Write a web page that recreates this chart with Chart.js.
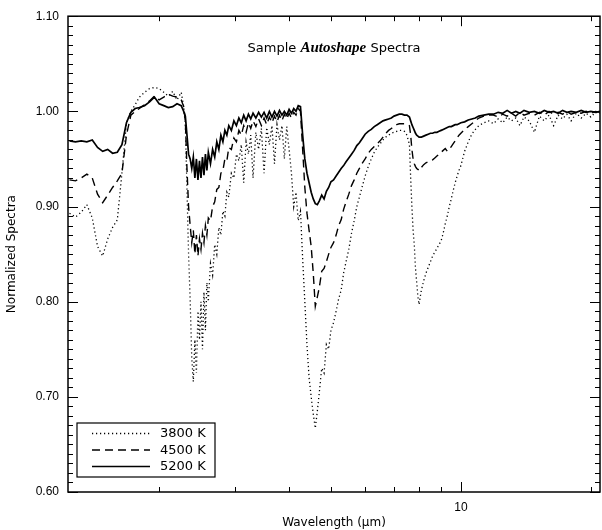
<!DOCTYPE html>
<html>
<head>
<meta charset="utf-8">
<title>Sample Autoshape Spectra</title>
<script src="https://cdn.jsdelivr.net/npm/chart.js@4.4.0/dist/chart.umd.min.js"></script>
<style>
  html, body { margin: 0; padding: 0; background: #fff; }
  canvas { display: block; }
</style>
</head>
<body>
<canvas id="spectraChart" width="602" height="530"></canvas>
<script>
// wavelength grid in micron
const wavelength = [
  1.24, 1.28, 1.32, 1.36, 1.40, 1.44, 1.48, 1.52, 1.56, 1.60,
  1.64, 1.68, 1.72, 1.76, 1.80, 1.85, 1.90, 1.95, 2.00, 2.05,
  2.10, 2.15, 2.20, 2.25, 2.28, 2.30, 2.32, 2.34, 2.36, 2.38,
  2.40, 2.42, 2.44, 2.46, 2.48, 2.50, 2.52, 2.54, 2.56, 2.58,
  2.60, 2.63, 2.66, 2.69, 2.72, 2.75, 2.78, 2.81, 2.84, 2.87,
  2.90, 2.94, 2.98, 3.02, 3.06, 3.10, 3.14, 3.18, 3.22, 3.26,
  3.30, 3.35, 3.40, 3.45, 3.50, 3.55, 3.60, 3.65, 3.70, 3.75,
  3.80, 3.85, 3.90, 3.95, 4.00, 4.05, 4.10, 4.15, 4.20, 4.25,
  4.30, 4.35, 4.40, 4.45, 4.50, 4.55, 4.60, 4.65, 4.70, 4.76,
  4.82, 4.88, 4.94, 5.00, 5.07, 5.14, 5.21, 5.28, 5.35, 5.42,
  5.50, 5.58, 5.66, 5.74, 5.82, 5.90, 6.00, 6.10, 6.20, 6.30,
  6.40, 6.50, 6.60, 6.70, 6.80, 6.90, 7.00, 7.10, 7.20, 7.30,
  7.40, 7.50, 7.60, 7.65, 7.70, 7.75, 7.80, 7.85, 7.90, 7.95,
  8.00, 8.05, 8.10, 8.20, 8.30, 8.40, 8.50, 8.60, 8.70, 8.80,
  8.90, 9.00, 9.10, 9.20, 9.30, 9.40, 9.50, 9.60, 9.70, 9.80,
  9.90, 10.0, 10.2, 10.4, 10.6, 10.8, 11.0, 11.3, 11.6, 11.9,
  12.2, 12.5, 12.8, 13.1, 13.4, 13.7, 14.0, 14.4, 14.8, 15.2,
  15.6, 16.0, 16.4, 16.8, 17.2, 17.6, 18.0, 18.5, 19.0, 19.5,
  20.0, 20.5, 21.0
];

const spec3800 = [
  0.893, 0.889, 0.894, 0.902, 0.888, 0.858, 0.848, 0.866, 0.878, 0.886,
  0.935, 0.988, 1.000, 1.007, 1.015, 1.020, 1.024, 1.025, 1.024, 1.020,
  1.016, 1.021, 1.012, 1.020, 1.005, 0.985, 0.920, 0.850, 0.800, 0.740,
  0.716, 0.760, 0.725, 0.790, 0.760, 0.800, 0.750, 0.810, 0.770, 0.820,
  0.800, 0.840, 0.828, 0.860, 0.850, 0.878, 0.870, 0.895, 0.890, 0.915,
  0.910, 0.935, 0.930, 0.955, 0.948, 0.965, 0.925, 0.968, 0.955, 0.975,
  0.930, 0.978, 0.960, 0.982, 0.935, 0.983, 0.965, 0.985, 0.945, 0.986,
  0.970, 0.985, 0.950, 0.984, 0.960, 0.935, 0.900, 0.915, 0.885, 0.895,
  0.845, 0.800, 0.755, 0.720, 0.700, 0.682, 0.667, 0.685, 0.705, 0.730,
  0.725, 0.755, 0.750, 0.770, 0.778, 0.790, 0.803, 0.812, 0.830, 0.842,
  0.855, 0.872, 0.885, 0.900, 0.910, 0.920, 0.932, 0.942, 0.950, 0.957,
  0.962, 0.966, 0.970, 0.973, 0.975, 0.977, 0.978, 0.979, 0.980, 0.980,
  0.979, 0.975, 0.965, 0.930, 0.900, 0.875, 0.860, 0.835, 0.820, 0.805,
  0.797, 0.805, 0.812, 0.822, 0.830, 0.836, 0.842, 0.848, 0.852, 0.856,
  0.860, 0.864, 0.872, 0.882, 0.890, 0.900, 0.908, 0.917, 0.925, 0.932,
  0.938, 0.943, 0.958, 0.968, 0.976, 0.981, 0.985, 0.988, 0.990, 0.987,
  0.992, 0.988, 0.994, 0.990, 0.993, 0.985, 0.994, 0.990, 0.978, 0.995,
  0.990, 0.996, 0.985, 0.996, 0.992, 0.997, 0.990, 0.998, 0.993, 0.998,
  0.994, 0.999, 0.998
];

const spec4500 = [
  0.928, 0.927, 0.930, 0.934, 0.930, 0.913, 0.904, 0.912, 0.920, 0.927,
  0.935, 0.975, 0.996, 1.000, 1.003, 1.007, 1.011, 1.016, 1.012, 1.015,
  1.018, 1.016, 1.015, 1.012, 1.005, 0.990, 0.940, 0.900, 0.880, 0.862,
  0.875, 0.850, 0.870, 0.848, 0.866, 0.855, 0.872, 0.862, 0.880, 0.870,
  0.888, 0.885, 0.900, 0.905, 0.918, 0.920, 0.935, 0.938, 0.950, 0.948,
  0.962, 0.960, 0.972, 0.968, 0.980, 0.975, 0.985, 0.978, 0.988, 0.982,
  0.990, 0.984, 0.992, 0.985, 0.993, 0.986, 0.994, 0.988, 0.995, 0.989,
  0.996, 0.990, 0.997, 0.992, 0.998, 0.993, 0.999, 0.996, 1.003, 1.000,
  0.960, 0.920, 0.893, 0.875, 0.858, 0.830, 0.795, 0.805, 0.815, 0.832,
  0.835, 0.842, 0.850, 0.857, 0.862, 0.870, 0.880, 0.886, 0.897, 0.905,
  0.913, 0.922, 0.928, 0.935, 0.940, 0.945, 0.950, 0.956, 0.960, 0.963,
  0.966, 0.969, 0.973, 0.977, 0.980, 0.982, 0.984, 0.986, 0.987, 0.987,
  0.987, 0.986, 0.985, 0.975, 0.960, 0.950, 0.945, 0.942, 0.940, 0.939,
  0.938, 0.938, 0.941, 0.944, 0.946, 0.947, 0.948, 0.949, 0.951, 0.953,
  0.955, 0.957, 0.959, 0.961, 0.958, 0.960, 0.963, 0.966, 0.969, 0.972,
  0.975, 0.977, 0.981, 0.984, 0.987, 0.990, 0.993, 0.995, 0.996, 0.996,
  0.994, 0.997, 0.995, 0.998, 0.995, 0.999, 0.996, 0.998, 0.996, 0.999,
  0.996, 1.000, 0.997, 0.999, 0.997, 1.000, 0.997, 0.999, 0.998, 1.000,
  0.998, 1.000, 0.999
];

const spec5200 = [
  0.969, 0.968, 0.969, 0.968, 0.970, 0.962, 0.958, 0.960, 0.956, 0.957,
  0.965, 0.988, 0.999, 1.003, 1.004, 1.006, 1.010, 1.015, 1.008, 1.006,
  1.004, 1.005, 1.008, 1.006, 1.000, 0.995, 0.975, 0.955, 0.950, 0.940,
  0.952, 0.930, 0.950, 0.928, 0.948, 0.930, 0.952, 0.933, 0.955, 0.938,
  0.957, 0.945, 0.960, 0.952, 0.968, 0.960, 0.975, 0.968, 0.980, 0.975,
  0.985, 0.980, 0.990, 0.985, 0.993, 0.988, 0.996, 0.990, 0.997, 0.992,
  0.998, 0.993, 0.999, 0.994, 0.999, 0.993, 1.000, 0.994, 1.000, 0.995,
  1.001, 0.996, 1.000, 0.996, 1.002, 0.998, 1.003, 1.000, 1.006, 1.005,
  0.975, 0.950, 0.935, 0.925, 0.915, 0.908, 0.903, 0.902, 0.906, 0.912,
  0.908, 0.916, 0.920, 0.926, 0.928, 0.932, 0.936, 0.940, 0.943, 0.947,
  0.951, 0.955, 0.959, 0.964, 0.967, 0.971, 0.976, 0.979, 0.981, 0.984,
  0.986, 0.988, 0.990, 0.991, 0.992, 0.993, 0.995, 0.996, 0.997, 0.997,
  0.996, 0.996, 0.994, 0.990, 0.986, 0.983, 0.980, 0.977, 0.975, 0.974,
  0.973, 0.973, 0.973, 0.974, 0.975, 0.976, 0.977, 0.977, 0.978, 0.978,
  0.979, 0.980, 0.981, 0.982, 0.983, 0.984, 0.984, 0.985, 0.986, 0.986,
  0.987, 0.988, 0.989, 0.991, 0.992, 0.993, 0.995, 0.996, 0.997, 0.997,
  0.999, 0.998, 1.001, 0.998, 1.000, 0.998, 1.001, 0.999, 1.000, 0.998,
  1.001, 0.999, 1.000, 0.998, 1.001, 0.999, 1.000, 0.999, 1.001, 0.999,
  1.000, 0.999, 1.000
];

const seriesLabels = ['3800 K', '4500 K', '5200 K'];
const xTicks = [2, 3, 4, 5, 6, 7, 8, 9, 10, 20];
const xLabelled = [10];
const yMin = 0.60, yMax = 1.10, yStep = 0.10;

const toPoints = (vals) => wavelength.map((w, i) => ({ x: w, y: vals[i] }));

const sans = '"DejaVu Sans", "Liberation Sans", sans-serif';

// frame with inward ticks on all four sides, title and legend box
const framePlugin = {
  id: 'frame',
  afterDatasetsDraw(chart) {
    const { ctx, chartArea: a, scales: { x, y } } = chart;
    ctx.save();
    ctx.strokeStyle = '#000';
    ctx.lineWidth = 1;
    ctx.beginPath();
    for (let i = Math.round(yMin * 100); i <= Math.round(yMax * 100); i++) {
      const py = Math.round(y.getPixelForValue(i / 100)) + 0.5;
      const len = i % 10 === 0 ? 10 : 5;
      ctx.moveTo(a.left, py); ctx.lineTo(a.left + len, py);
      ctx.moveTo(a.right, py); ctx.lineTo(a.right - len, py);
    }
    x.ticks.forEach(t => {
      const px = Math.round(x.getPixelForValue(t.value)) + 0.5;
      const len = xLabelled.includes(t.value) ? 10 : 5;
      ctx.moveTo(px, a.bottom); ctx.lineTo(px, a.bottom - len);
      ctx.moveTo(px, a.top); ctx.lineTo(px, a.top + len);
    });
    ctx.stroke();
    ctx.lineWidth = 1.5;
    ctx.strokeRect(a.left, a.top, a.right - a.left, a.bottom - a.top);

    // title: mixed fonts
    const parts = [
      { t: 'Sample ', f: '13px ' + sans },
      { t: 'Autoshape', f: 'italic bold 15px "Liberation Serif", serif' },
      { t: ' Spectra', f: '13px ' + sans }
    ];
    let total = 0;
    parts.forEach(p => { ctx.font = p.f; p.w = ctx.measureText(p.t).width; total += p.w; });
    let tx = (a.left + a.right) / 2 - total / 2;
    ctx.fillStyle = '#000';
    ctx.textBaseline = 'middle';
    ctx.textAlign = 'left';
    parts.forEach(p => { ctx.font = p.f; ctx.fillText(p.t, tx, a.top + 32); tx += p.w; });

    // legend box
    const bx = a.left + 9, by = a.bottom - 69, bw = 138, bh = 54;
    ctx.fillStyle = '#fff';
    ctx.fillRect(bx, by, bw, bh);
    ctx.lineWidth = 1.2;
    ctx.strokeRect(bx, by, bw, bh);
    ctx.font = '13px ' + sans;
    chart.data.datasets.forEach((ds, i) => {
      const ly = by + 10.5 + i * 16.5;
      ctx.beginPath();
      ctx.setLineDash(ds.borderDash || []);
      ctx.lineWidth = ds.borderWidth;
      ctx.moveTo(bx + 15, ly);
      ctx.lineTo(bx + 73, ly);
      ctx.stroke();
      ctx.setLineDash([]);
      ctx.fillStyle = '#000';
      ctx.fillText(ds.label, bx + 83, ly + 0.5);
    });
    ctx.restore();
  }
};

new Chart(document.getElementById('spectraChart'), {
  type: 'line',
  data: {
    datasets: [
      { label: seriesLabels[0], data: toPoints(spec3800), borderColor: '#000', borderWidth: 1.3, borderDash: [1.2, 2.8] },
      { label: seriesLabels[1], data: toPoints(spec4500), borderColor: '#000', borderWidth: 1.4, borderDash: [8, 5] },
      { label: seriesLabels[2], data: toPoints(spec5200), borderColor: '#000', borderWidth: 1.7 }
    ]
  },
  options: {
    responsive: false,
    animation: false,
    layout: { padding: { top: 11, right: 2, left: 0, bottom: 0 } },
    elements: { point: { radius: 0 }, line: { tension: 0 } },
    plugins: { legend: { display: false }, tooltip: { enabled: false } },
    scales: {
      x: {
        type: 'logarithmic',
        min: 1.23,
        max: 21,
        afterBuildTicks: (scale) => { scale.ticks = xTicks.map(v => ({ value: v })); },
        afterFit: (scale) => { scale.height = 38; },
        grid: { display: false, drawTicks: false },
        border: { display: false },
        ticks: {
          autoSkip: false,
          maxRotation: 0,
          padding: 8,
          color: '#000',
          font: { family: '"Liberation Sans", Arial, sans-serif', size: 12 },
          callback: (v) => xLabelled.includes(v) ? String(v) : ''
        },
        title: {
          display: true,
          text: 'Wavelength (\u03bcm)',
          color: '#000',
          padding: { top: 0, bottom: 0 },
          font: { family: sans, size: 12 }
        }
      },
      y: {
        min: yMin,
        max: yMax,
        afterFit: (scale) => { scale.width = 68; },
        grid: { display: false, drawTicks: false },
        border: { display: false },
        ticks: {
          stepSize: yStep,
          padding: 9,
          color: '#000',
          font: { family: '"Liberation Sans", Arial, sans-serif', size: 12 },
          callback: (v) => Number(v).toFixed(2)
        },
        title: {
          display: true,
          text: 'Normalized Spectra',
          color: '#000',
          padding: { top: 5, bottom: 0 },
          font: { family: sans, size: 12 }
        }
      }
    }
  },
  plugins: [framePlugin]
});
</script>
</body>
</html>
